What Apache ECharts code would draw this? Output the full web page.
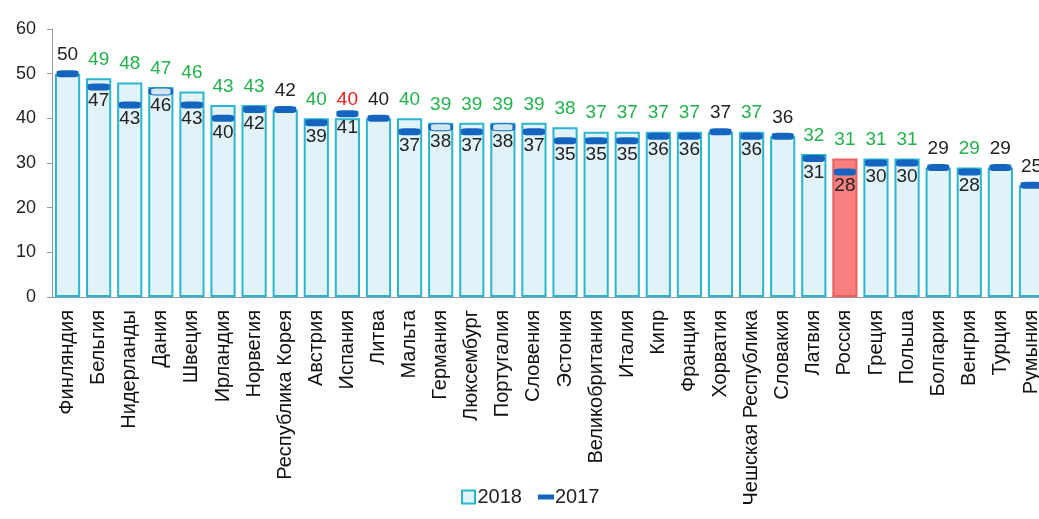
<!DOCTYPE html>
<html>
<head>
<meta charset="utf-8">
<script src="https://cdn.jsdelivr.net/npm/echarts@6/dist/echarts.min.js"></script>
<style>
  html, body { margin: 0; padding: 0; background: #fff; }
  #chart { width: 1039px; height: 519px; }
</style>
</head>
<body>
<div id="chart"></div>
<script>
  const countries = ["Финляндия", "Бельгия", "Нидерланды", "Дания", "Швеция", "Ирландия", "Норвегия",
    "Республика Корея", "Австрия", "Испания", "Литва", "Мальта", "Германия", "Люксембург", "Португалия",
    "Словения", "Эстония", "Великобритания", "Италия", "Кипр", "Франция", "Хорватия", "Чешская Республика",
    "Словакия", "Латвия", "Россия", "Греция", "Польша", "Болгария", "Венгрия", "Турция", "Румыния"];
  const values2018 = [50, 49, 48, 47, 46, 43, 43, 42, 40, 40, 40, 40, 39, 39, 39, 39, 38, 37, 37, 37, 37, 37, 37,
    36, 32, 31, 31, 31, 29, 29, 29, 25];
  const values2017 = [50, 47, 43, 46, 43, 40, 42, 42, 39, 41, 40, 37, 38, 37, 38, 37, 35, 35, 35, 36, 36, 37, 36,
    36, 31, 28, 30, 30, 29, 28, 29, 25];
  const yTicks = [0, 10, 20, 30, 40, 50, 60];

  const highlight = "Россия";
  const hollowMarks = ["Дания", "Германия", "Португалия"]; // в оригинале эти отметки светлые внутри

  const chart = echarts.init(document.getElementById("chart"));

  const barData = values2018.map((v, i) => {
    if (countries[i] === highlight) {
      return { value: v, itemStyle: { color: "#f77f7f", borderColor: "#e9605f" } };
    }
    return v;
  });

  const markData = values2017.map((v, i) => {
    if (hollowMarks.includes(countries[i])) {
      return { value: v, itemStyle: { color: "#cfe8f4", borderColor: "#1565c0", borderWidth: 1.5 } };
    }
    return v;
  });

  chart.setOption({
    animation: false,
    textStyle: { fontFamily: "Liberation Sans, Arial, sans-serif" },
    grid: { left: 52, top: 29, width: 995, height: 268, outerBoundsMode: "none" },
    legend: {
      top: 482,
      left: 456,
      itemGap: 16,
      itemWidth: 16,
      itemHeight: 13,
      textStyle: { fontSize: 20, color: "#222", padding: [0, 0, 0, -4] },
      data: [
        { name: "2018", icon: "path://M1.5,0h13v13h-13z", itemStyle: { color: "#e1f2f8", borderColor: "#29b6d0", borderWidth: 2 } },
        { name: "2017", icon: "path://M0,4h16v5h-16z", itemStyle: { color: "#1565c0" } },
      ],
    },
    xAxis: {
      type: "category",
      data: countries,
      axisLine: { lineStyle: { color: "#999" } },
      axisTick: { length: 6, lineStyle: { color: "#999" } },
      axisLabel: { rotate: 90, interval: 0, fontSize: 20, color: "#111", margin: 13 },
    },
    yAxis: {
      type: "value",
      min: yTicks[0],
      max: yTicks[yTicks.length - 1],
      interval: 10,
      splitLine: { show: false },
      axisLine: { show: true, lineStyle: { color: "#999" } },
      axisTick: { show: true, length: 5, lineStyle: { color: "#999" } },
      axisLabel: { fontSize: 18, color: "#222", margin: 16 },
    },
    series: [
      {
        name: "2018",
        type: "bar",
        data: barData,
        barCategoryGap: "19%",
        itemStyle: { color: "#e1f2f8", borderColor: "#29b6d0", borderWidth: 2 },
        label: {
          show: true,
          position: "top",
          distance: 9,
          fontSize: 19,
          formatter: (p) => {
            const prev = values2017[p.dataIndex];
            const tag = p.value > prev ? "g" : p.value < prev ? "r" : "k";
            return "{" + tag + "|" + p.value + "}";
          },
          rich: {
            g: { color: "#22b24c", fontSize: 19 },
            r: { color: "#ee1c1c", fontSize: 19 },
            k: { color: "#222", fontSize: 19 },
          },
        },
        z: 2,
      },
      {
        name: "2017",
        type: "scatter",
        data: markData,
        symbol: "roundRect",
        symbolSize: [22, 7],
        itemStyle: { color: "#1565c0", opacity: 1 },
        label: {
          show: true,
          position: "bottom",
          distance: 1,
          fontSize: 19,
          color: "#222",
          formatter: (p) => (values2018[p.dataIndex] !== values2017[p.dataIndex] ? String(values2017[p.dataIndex]) : ""),
        },
        z: 3,
      },
    ],
  });
</script>
</body>
</html>
